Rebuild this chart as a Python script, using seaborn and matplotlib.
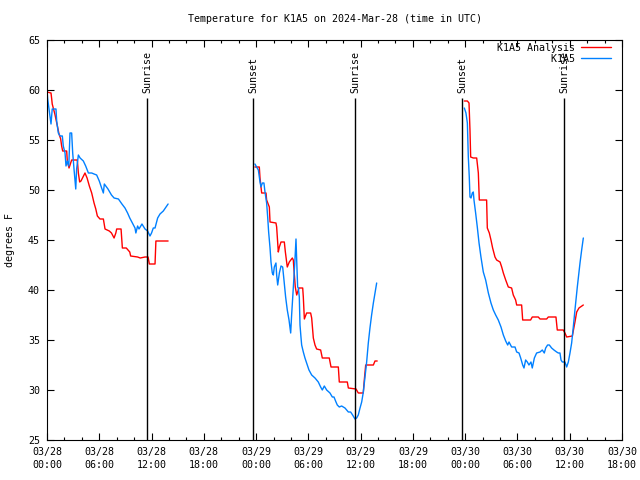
### Temperature chart for K1A5: analysis vs observations ###

import matplotlib

matplotlib.use("Agg")
import matplotlib.dates as mdates
import matplotlib.pyplot as plt
import pandas as pd
import seaborn as sns
from matplotlib.lines import Line2D

START = pd.Timestamp("2024-03-28 00:00")

# hours after 03/28 00:00 UTC, temperatures in degrees F
analysis_hours_1 = [0.0, 0.46, 0.54, 0.6, 0.9, 1.19, 1.38, 1.57, 1.68, 1.8, 2.26, 2.33, 2.53, 2.83, 3.48,
                    3.6, 3.75, 3.9, 4.36, 4.6, 4.86, 5.13, 5.4, 5.6, 5.78, 6.08, 6.47, 6.66, 7.15, 7.4,
                    7.7, 7.9, 8.0, 8.5, 8.65, 9.1, 9.5, 9.6, 10.4, 10.7, 11.25, 11.6, 11.75, 12.4, 12.5, 13.9]
analysis_temps_1 = [59.8, 59.7, 59.1, 58.6, 57.6, 56.4, 55.6, 55.1, 54.4, 53.9, 53.9, 52.9, 52.2, 53.0, 53.0,
                    51.7, 50.8, 50.9, 51.7, 51.2, 50.4, 49.7, 48.7, 48.1, 47.4, 47.1, 47.1, 46.1, 45.9, 45.7,
                    45.2, 45.7, 46.1, 46.1, 44.2, 44.2, 43.8, 43.4, 43.3, 43.2, 43.3, 43.3, 42.6, 42.6, 44.9, 44.9]

analysis_hours_2 = [23.87, 24.37, 24.45, 24.64, 25.14, 25.21, 25.52, 25.6, 26.28, 26.36, 26.55, 26.67, 26.86,
                    27.24, 27.36, 27.58, 27.81, 28.16, 28.27, 28.35, 28.5, 28.66, 28.77, 28.92, 29.35, 29.42,
                    29.54, 29.8, 30.26, 30.38, 30.57, 30.76, 30.95, 31.41, 31.6, 32.4, 32.6, 33.44, 33.55,
                    34.47, 34.59, 35.47, 35.73, 36.3, 36.42, 36.58, 37.46, 37.65, 37.9]
analysis_temps_2 = [52.3, 52.3, 51.2, 49.7, 49.7, 49.0, 48.3, 46.8, 46.7, 46.3, 43.8, 44.3, 44.8,
                    44.8, 43.8, 42.3, 42.8, 43.2, 43.0, 42.0, 40.3, 39.5, 39.8, 40.2, 40.2, 39.3,
                    37.1, 37.7, 37.7, 37.2, 35.2, 34.5, 34.1, 34.0, 33.2, 33.2, 32.3, 32.3, 30.8,
                    30.8, 30.2, 30.1, 29.7, 29.7, 31.0, 32.5, 32.5, 32.9, 32.9]

analysis_hours_3 = [47.9, 48.25, 48.44, 48.55, 48.63, 48.93, 49.32, 49.51, 49.62, 49.89, 50.46, 50.54, 50.77,
                    50.96, 51.15, 51.42, 51.61, 52.0, 52.19, 52.38, 52.65, 52.95, 53.33, 53.52, 53.79, 53.91,
                    54.48, 54.6, 55.51, 55.7, 56.39, 56.59, 57.35, 57.54, 58.42, 58.57, 59.26, 59.45, 59.65,
                    60.3, 60.6, 60.8, 61.06, 61.56]
analysis_temps_3 = [58.9, 58.9, 58.7, 56.0, 53.3, 53.2, 53.2, 51.7, 49.0, 49.0, 49.0, 46.2, 45.7,
                    45.0, 44.2, 43.3, 43.0, 42.8, 42.3, 41.7, 41.0, 40.3, 40.2, 39.5, 39.0, 38.5,
                    38.5, 37.0, 37.0, 37.3, 37.3, 37.1, 37.1, 37.3, 37.3, 36.0, 36.0, 35.7, 35.3,
                    35.4, 36.8, 37.8, 38.2, 38.5]

obs_hours_1 = [0.0, 0.08, 0.23, 0.46, 0.6, 1.03, 1.11, 1.3, 1.5, 1.76, 1.87, 2.07, 2.18, 2.33, 2.5, 2.64,
               2.83, 2.95, 3.1, 3.3, 3.4, 3.6, 3.8, 4.17, 4.44, 4.75, 5.13, 5.4, 5.7, 6.0, 6.27, 6.47,
               6.58, 7.0, 7.4, 7.7, 8.2, 8.6, 8.95, 9.25, 9.5, 9.8, 10.1, 10.2, 10.4, 10.56, 10.9, 11.25,
               11.55, 11.82, 12.0, 12.2, 12.4, 12.7, 12.97, 13.35, 13.9]
obs_temps_1 = [60.0, 59.1, 58.1, 56.6, 58.1, 58.1, 56.9, 55.7, 55.4, 55.4, 54.4, 53.7, 52.4, 52.9, 52.4, 55.7,
               55.7, 53.7, 52.1, 50.1, 52.1, 53.5, 53.2, 52.9, 52.4, 51.7, 51.7, 51.6, 51.5, 50.9, 50.2, 49.7,
               50.6, 50.1, 49.5, 49.2, 49.1, 48.6, 48.2, 47.7, 47.2, 46.7, 46.2, 45.7, 46.4, 46.1, 46.6, 46.1,
               45.9, 45.4, 45.7, 46.2, 46.2, 47.2, 47.6, 47.9, 48.6]

obs_hours_2 = [23.87, 24.06, 24.26, 24.45, 24.56, 24.72, 24.9, 25.02, 25.21, 25.33, 25.44, 25.6, 25.71,
               25.86, 25.98, 26.09, 26.28, 26.36, 26.48, 26.67, 26.86, 27.05, 27.2, 27.39, 27.58, 27.78,
               27.97, 28.08, 28.27, 28.46, 28.58, 28.66, 28.77, 28.85, 28.96, 29.04, 29.15, 29.23, 29.42,
               29.61, 29.8, 30.07, 30.38, 30.76, 31.14, 31.41, 31.6, 31.83, 32.1, 32.48, 32.75, 32.94,
               33.17, 33.32, 33.55, 33.82, 34.2, 34.59, 34.85, 35.08, 35.35, 35.54, 35.73, 35.93, 36.12,
               36.31, 36.5, 36.69, 36.88, 37.07, 37.26, 37.46, 37.65, 37.84]
obs_temps_2 = [52.6, 52.3, 52.0, 50.8, 50.3, 50.7, 50.7, 49.8, 48.7, 47.3, 45.8, 44.2, 42.8,
               41.7, 41.5, 42.3, 42.7, 41.5, 40.5, 41.7, 42.4, 42.3, 41.0, 39.3, 38.0, 37.0,
               35.7, 37.5, 40.2, 43.0, 45.1, 43.0, 40.3, 40.2, 39.3, 36.5, 35.3, 34.5, 33.8,
               33.2, 32.7, 32.0, 31.5, 31.2, 30.8, 30.3, 30.0, 30.4, 30.0, 29.7, 29.3, 29.3,
               28.8, 28.5, 28.3, 28.4, 28.2, 27.8, 27.8, 27.5, 27.1, 27.2, 27.5, 28.2, 28.8,
               29.8, 31.3, 32.8, 34.7, 36.2, 37.5, 38.7, 39.7, 40.7]

obs_hours_3 = [47.9, 48.09, 48.25, 48.36, 48.47, 48.55, 48.67, 48.82, 48.93, 49.01, 49.2, 49.39, 49.59,
               49.81, 50.08, 50.35, 50.66, 50.96, 51.23, 51.5, 51.8, 52.11, 52.38, 52.65, 52.88, 53.03,
               53.33, 53.72, 53.91, 54.18, 54.37, 54.6, 54.75, 54.94, 55.13, 55.32, 55.55, 55.7, 55.94,
               56.2, 56.59, 56.85, 57.08, 57.24, 57.46, 57.66, 57.92, 58.19, 58.5, 58.69, 58.88, 59.0,
               59.15, 59.45, 59.65, 59.84, 60.03, 60.22, 60.41, 60.6, 60.87, 61.18, 61.37, 61.56]
obs_temps_3 = [58.2, 57.7, 56.7, 53.3, 51.3, 49.3, 49.2, 49.7, 49.8, 49.0, 47.7, 46.3, 44.7,
               43.3, 41.8, 41.0, 39.7, 38.7, 38.0, 37.5, 37.0, 36.3, 35.5, 34.9, 34.5, 34.8,
               34.3, 34.3, 33.8, 33.7, 33.2, 32.5, 32.2, 33.0, 32.8, 32.5, 32.8, 32.2, 33.2,
               33.7, 33.8, 34.0, 33.7, 34.2, 34.5, 34.5, 34.2, 34.0, 33.8, 33.7, 33.7, 33.0,
               32.8, 32.8, 32.3, 32.8, 33.7, 34.7, 36.3, 38.0, 40.3, 42.7, 44.0, 45.2]

sun_events = ["Sunrise", "Sunset", "Sunrise", "Sunset", "Sunrise"]
sun_hours = [11.5, 23.65, 35.35, 47.65, 59.35]

series_names = ["K1A5 Analysis", "K1A5"]
series_colors = {"K1A5 Analysis": "#ff0000", "K1A5": "#0080ff"}


def build_frame():
    parts = [
        ("K1A5 Analysis", 1, analysis_hours_1, analysis_temps_1),
        ("K1A5 Analysis", 2, analysis_hours_2, analysis_temps_2),
        ("K1A5 Analysis", 3, analysis_hours_3, analysis_temps_3),
        ("K1A5", 1, obs_hours_1, obs_temps_1),
        ("K1A5", 2, obs_hours_2, obs_temps_2),
        ("K1A5", 3, obs_hours_3, obs_temps_3),
    ]
    frames = []
    for name, seg, hours, temps in parts:
        frames.append(pd.DataFrame({"series": name, "segment": seg, "hours": hours, "temp": temps}))
    df = pd.concat(frames, ignore_index=True)
    df["time"] = START + pd.to_timedelta(df["hours"], unit="h")
    return df


sns.set_style("ticks")
plt.rcParams["font.family"] = ["DejaVu Sans Mono", "DejaVu Sans"]
plt.rcParams["font.size"] = 7.2
plt.rcParams["text.color"] = "black"
plt.rcParams["axes.labelcolor"] = "black"
plt.rcParams["xtick.color"] = "black"
plt.rcParams["ytick.color"] = "black"
plt.rcParams["axes.edgecolor"] = "black"

fig = plt.figure(figsize=(6.4, 4.8), dpi=100)
ax = fig.add_axes([47 / 640, 40 / 480, 575 / 640, 400 / 480])

df = build_frame()
sns.lineplot(
    data=df, x="time", y="temp", hue="series", units="segment", estimator=None,
    palette=series_colors, hue_order=series_names, linewidth=1.0, legend=False, ax=ax,
)

# sunrise / sunset markers
for event, h in zip(sun_events, sun_hours):
    t = START + pd.Timedelta(hours=h)
    ax.vlines(t, 25, 59.2, color="black", linewidth=1.0)
    ax.text(mdates.date2num(t), 59.7, event, rotation=90, ha="center", va="bottom", fontsize=7.2)

ax.set_xlim(START, START + pd.Timedelta(hours=66))
ax.set_ylim(25, 65)
ax.set_yticks(range(25, 66, 5))
ax.xaxis.set_major_locator(mdates.HourLocator(byhour=[0, 6, 12, 18]))
ax.xaxis.set_minor_locator(mdates.HourLocator(byhour=range(0, 24, 2)))
ax.xaxis.set_major_formatter(mdates.DateFormatter("%m/%d\n%H:%M"))
for lbl in ax.get_xticklabels():
    lbl.set_linespacing(1.35)

ax.tick_params(which="both", direction="in", top=True, right=True, labelsize=7.2, width=0.8)
ax.tick_params(which="major", length=5)
ax.tick_params(which="minor", length=2.5)
ax.tick_params(axis="x", pad=5)
ax.tick_params(axis="y", pad=5)
for spine in ax.spines.values():
    spine.set_visible(True)
    spine.set_linewidth(0.8)
    spine.set_color("black")

ax.set_xlabel("")
ax.set_ylabel("degrees F", fontsize=7.2)
ax.yaxis.set_label_coords(-32 / 575, 0.5)
ax.set_title("Temperature for K1A5 on 2024-Mar-28 (time in UTC)", fontsize=7.2, pad=13)

handles = [Line2D([], [], color=series_colors[n], linewidth=1.0) for n in series_names]
labels = ["K1A5 Analysis", "         K1A5"]
ax.legend(
    handles, labels, loc="upper right", bbox_to_anchor=(1 - 8 / 575, 1), borderaxespad=0,
    borderpad=0.3, frameon=False, markerfirst=False, handlelength=3.0, handletextpad=0.6,
    labelspacing=0.1, fontsize=7.2,
)

fig.savefig("out.png", dpi=100)
